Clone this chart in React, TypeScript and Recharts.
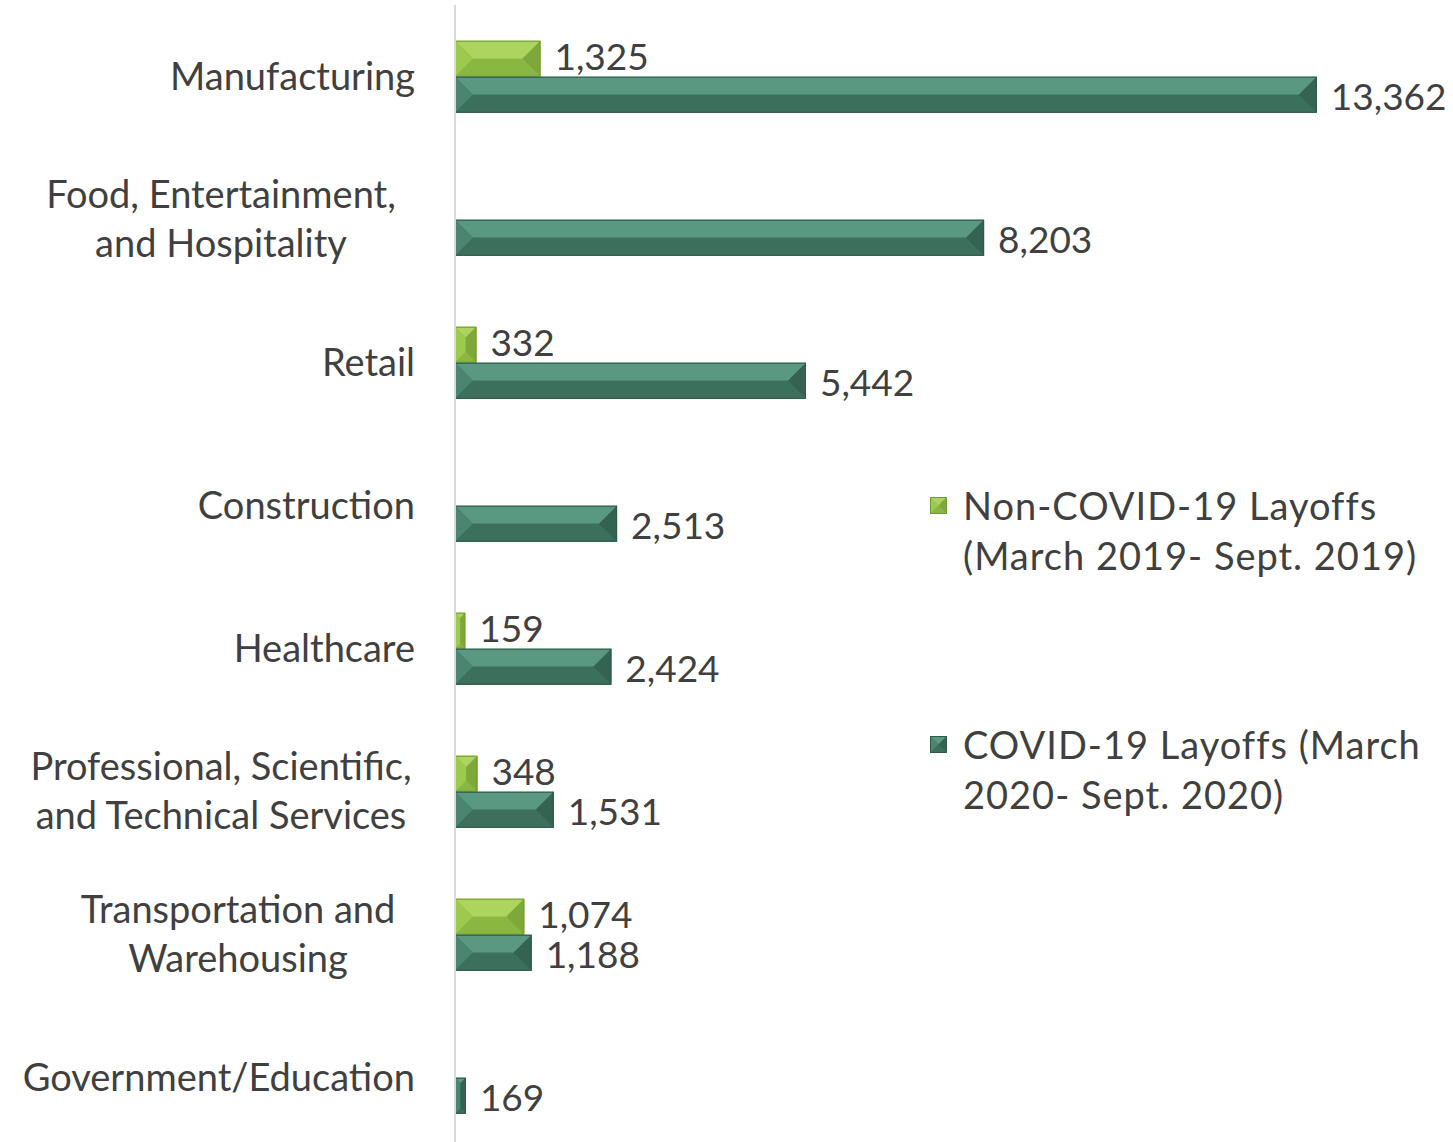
import React from "react";
import { BarChart, Bar, XAxis, YAxis, LabelList, Legend } from "recharts";

const categories = [
  "Manufacturing",
  "Food, Entertainment,\nand Hospitality",
  "Retail",
  "Construction",
  "Healthcare",
  "Professional, Scientific,\nand Technical Services",
  "Transportation and\nWarehousing",
  "Government/Education",
];
const nonCovidValues: (number | null)[] = [1325, null, 332, null, 159, 348, 1074, null];
const covidValues: number[] = [13362, 8203, 5442, 2513, 2424, 1531, 1188, 169];

const nonCovidLegend = ["Non-COVID-19 Layoffs", "(March 2019- Sept. 2019)"];
const covidLegend = ["COVID-19 Layoffs (March", "2020- Sept. 2020)"];

const data = categories.map((name, i) => ({
  name,
  nonCovid: nonCovidValues[i],
  covid: covidValues[i],
}));

const FONT = "Lato, 'Open Sans', sans-serif";
const TEXT = "#404040";

const palettes: Record<string, { base: string; top: string; left: string; right: string; bottom: string; stroke: string }> = {
  light: { base: "#8cbb42", top: "#acd45e", left: "#9cc94e", right: "#7ea83a", bottom: "#8ab741", stroke: "#739b35" },
  dark: { base: "#3b6f5b", top: "#5a9882", left: "#4a8570", right: "#356352", bottom: "#3c6f5c", stroke: "#2f5a4a" },
};

const BevelBar = (props: any) => {
  const { x, y, width, height, tone } = props;
  if (!width || width <= 0 || !height) return null;
  const p = palettes[tone];
  const d = Math.min(height * 0.5, width / 2);
  const x2 = x + width;
  const y2 = y + height;
  const pts = (a: number[][]) => a.map((q) => q.join(",")).join(" ");
  return (
    <g>
      <rect x={x} y={y} width={width} height={height} fill={p.base} />
      <polygon points={pts([[x, y], [x2, y], [x2 - d, y + d], [x + d, y + d]])} fill={p.top} />
      <polygon points={pts([[x, y], [x + d, y + d], [x + d, y2 - d], [x, y2]])} fill={p.left} />
      <polygon points={pts([[x2, y], [x2, y2], [x2 - d, y2 - d], [x2 - d, y + d]])} fill={p.right} />
      <polygon points={pts([[x, y2], [x + d, y2 - d], [x2 - d, y2 - d], [x2, y2]])} fill={p.bottom} />
      <rect x={x + 0.5} y={y + 0.5} width={Math.max(0, width - 1)} height={height - 1} fill="none" stroke={p.stroke} strokeWidth={1} />
    </g>
  );
};

const wrapCenters: Record<string, number> = {
  "Food, Entertainment,\nand Hospitality": 221,
  "Professional, Scientific,\nand Technical Services": 221,
  "Transportation and\nWarehousing": 238,
};

const CategoryTick = (props: any) => {
  const { y, payload } = props;
  const value: string = payload.value;
  const lines = value.split("\n");
  if (lines.length === 1) {
    return (
      <text x={415} y={y} dy="0.35em" textAnchor="end" fill={TEXT} fontSize={38} fontFamily={FONT}>
        {value}
      </text>
    );
  }
  const cx = wrapCenters[value] ?? 221;
  const lh = 49;
  return (
    <text x={cx} y={y} textAnchor="middle" fill={TEXT} fontSize={38} fontFamily={FONT}>
      {lines.map((l, i) => (
        <tspan key={i} x={cx} y={y + (i - (lines.length - 1) / 2) * lh} dy="0.35em">
          {l}
        </tspan>
      ))}
    </text>
  );
};

const fmt = (v: any) => (v === null || v === undefined ? "" : Number(v).toLocaleString("en-US"));

const LegendMarker = ({ tone }: { tone: string }) => (
  <svg width={17} height={17} style={{ position: "absolute", left: 0, top: 17 }}>
    <BevelBar x={0} y={0} width={17} height={17} tone={tone} />
  </svg>
);

const LegendContent = () => {
  const items = [
    { tone: "light", lines: nonCovidLegend },
    { tone: "dark", lines: covidLegend },
  ];
  return (
    <div style={{ fontFamily: FONT, fontSize: 38, color: TEXT, letterSpacing: 1 }}>
      {items.map((it, i) => (
        <div key={i} style={{ position: "relative", paddingLeft: 33, marginBottom: i === 0 ? 139 : 0, lineHeight: "50px" }}>
          <LegendMarker tone={it.tone} />
          {it.lines.map((l, j) => (
            <div key={j} style={{ whiteSpace: "nowrap" }}>{l}</div>
          ))}
        </div>
      ))}
    </div>
  );
};

export default function App() {
  return (
    <div style={{ position: "absolute", left: 0, top: 0, width: 1453, height: 1142, overflow: "hidden", background: "#fff" }}>
      <BarChart
        width={1453}
        height={1150}
        data={data}
        layout="vertical"
        margin={{ top: 5, right: 95, left: 0, bottom: 1 }}
        barCategoryGap="25%"
        barGap={0}
      >
        <XAxis type="number" domain={[0, 14000]} hide />
        <YAxis
          type="category"
          dataKey="name"
          width={455}
          axisLine={{ stroke: "#d9d9d9", strokeWidth: 2 }}
          tickLine={false}
          interval={0}
          tick={<CategoryTick />}
        />
        <Legend
          layout="vertical"
          align="center"
          verticalAlign="middle"
          content={<LegendContent />}
          wrapperStyle={{ position: "absolute", left: 930, top: 480, width: 520 }}
        />
        <Bar dataKey="nonCovid" name={nonCovidLegend.join(" ")} isAnimationActive={false} shape={<BevelBar tone="light" />}>
          <LabelList dataKey="nonCovid" position="right" offset={14} dy={-2} formatter={fmt} fill={TEXT} fontSize={37} fontFamily={FONT} />
        </Bar>
        <Bar dataKey="covid" name={covidLegend.join(" ")} isAnimationActive={false} shape={<BevelBar tone="dark" />}>
          <LabelList dataKey="covid" position="right" offset={14} dy={2} formatter={fmt} fill={TEXT} fontSize={37} fontFamily={FONT} />
        </Bar>
      </BarChart>
    </div>
  );
}
